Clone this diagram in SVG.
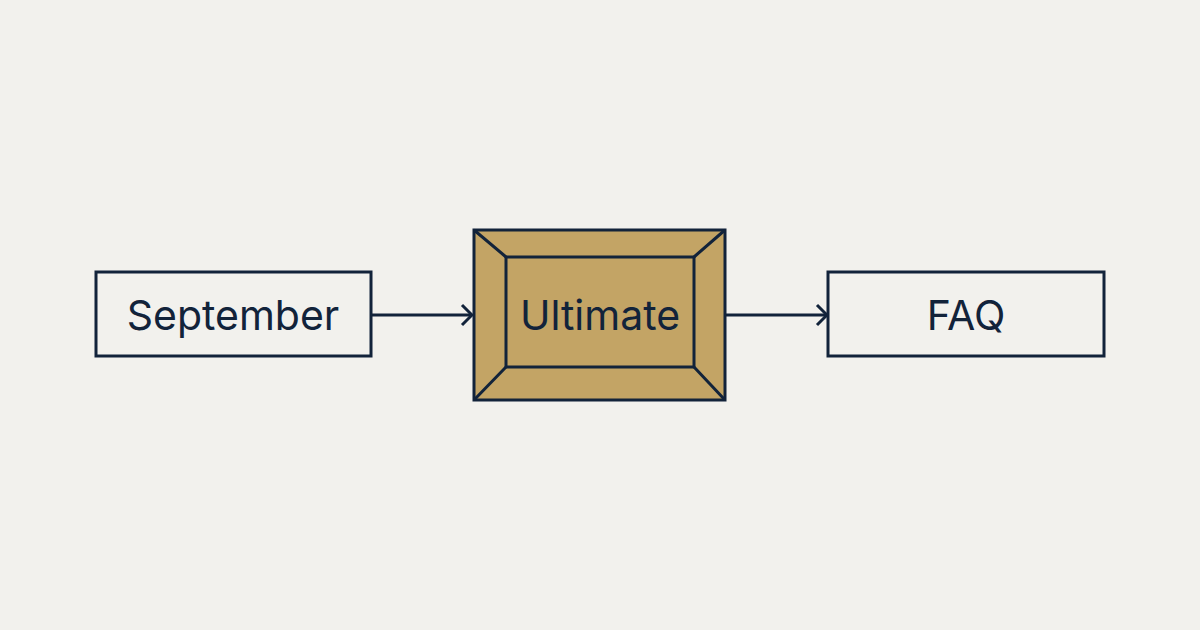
<svg xmlns="http://www.w3.org/2000/svg" width="1200" height="630" viewBox="0 0 1200 630">
<style>
.box{fill:none;stroke:#12233a;stroke-width:3}
.t{font-family:Inter,"Liberation Sans",sans-serif;font-size:41px;fill:#12233a;text-anchor:middle;dominant-baseline:central}
.c{stroke:#12233a;stroke-width:3;fill:none}
</style>
<defs><marker id="b" markerWidth="24" markerHeight="24" refX="22" refY="12" orient="auto" markerUnits="userSpaceOnUse"><path d="M12,2 L22,12 L12,22" fill="none" stroke="#12233a" stroke-width="3"/></marker></defs>
<rect width="1200" height="630" fill="#f2f1ed"/>
<g id="connectors">
<line class="c" x1="372" y1="315" x2="472" y2="315" marker-end="url(#b)"/>
<line class="c" x1="726" y1="315" x2="827" y2="315" marker-end="url(#b)"/>
</g>
<g id="september"><rect class="box" x="96" y="272" width="275" height="84"/><text class="t" x="233" y="315">September</text></g>
<g id="ultimate">
<rect x="474" y="230" width="251" height="170" fill="#c3a465" stroke="#12233a" stroke-width="3"/>
<rect class="box" x="506" y="257" width="188" height="110"/>
<path class="c" d="M474,230 L506,257 M725,230 L694,257 M474,400 L506,367 M725,400 L694,367"/>
<text class="t" x="600" y="315">Ultimate</text></g>
<g id="faq"><rect class="box" x="828" y="272" width="276" height="84"/><text class="t" x="966" y="315">FAQ</text></g>
</svg>
